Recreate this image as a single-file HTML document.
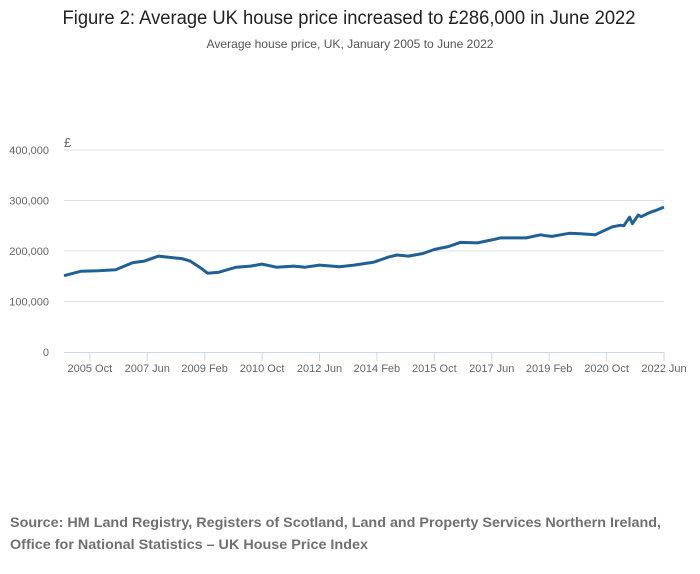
<!DOCTYPE html>
<html><head><meta charset="utf-8"><style>
html,body{margin:0;padding:0;background:#fff;}
svg{display:block;font-family:"Liberation Sans",sans-serif;}
</style></head><body>
<svg id="chart" width="700" height="574" viewBox="0 0 700 574">
<text x="349" y="24" text-anchor="middle" font-size="19" fill="#222" textLength="573" lengthAdjust="spacingAndGlyphs">Figure 2: Average UK house price increased to £286,000 in June 2022</text>
<text x="350" y="48" text-anchor="middle" font-size="12" fill="#555" textLength="287" lengthAdjust="spacingAndGlyphs">Average house price, UK, January 2005 to June 2022</text>
<g id="grid"></g>
<g id="yaxis"></g>
<g id="xaxis"></g>
<text x="64" y="147" font-size="13" fill="#666">£</text>
<path id="line" fill="none" stroke="#206095" stroke-width="3" stroke-linejoin="round"/>
<text x="10" y="527" font-size="14" font-weight="bold" fill="#707070" textLength="651" lengthAdjust="spacingAndGlyphs">Source: HM Land Registry, Registers of Scotland, Land and Property Services Northern Ireland,</text>
<text x="10" y="549" font-size="14" font-weight="bold" fill="#707070" textLength="358" lengthAdjust="spacingAndGlyphs">Office for National Statistics – UK House Price Index</text>
</svg>
<script>
// months since Jan 2005
const months = [0,6,12,18,24,28,33,36,41,44,48,50,54,60,65,69,74,80,84,89,96,101,108,109,113,116,120,125,129,134,138,144,149,152,156,161,166,168,170,173,176,180,185,188,191,194,195,197,198,200,201,204,206,209];
const prices = [151,160,161,163,177,180,190,188,185,180,165,156,158,168,170,174,168,170,168,172,169,172,178,180,188,192,190,195,203,209,217,216,222,226,226,226,232,230,229,232,235,234,232,240,248,251,250,267,254,271,268,276,280,287];
const yTicks = [0,100,200,300,400];
const yTickLabels = ["0","100,000","200,000","300,000","400,000"];
const xTickMonths = [9,29,49,69,89,109,129,149,169,189,209];
const xTickLabels = ["2005 Oct","2007 Jun","2009 Feb","2010 Oct","2012 Jun","2014 Feb","2015 Oct","2017 Jun","2019 Feb","2020 Oct","2022 Jun"];

const X0=64, X1=664, Y0=352, Y1=150;
const xS = m => X0 + (X1-X0)*m/209;
const yS = v => Y0 - (Y0-Y1)*v/400;
const NS="http://www.w3.org/2000/svg";
const grid=document.getElementById('grid'), ya=document.getElementById('yaxis'), xa=document.getElementById('xaxis');
yTicks.forEach((t,i)=>{
  if(t>0){
    const l=document.createElementNS(NS,'line');
    l.setAttribute('x1',X0);l.setAttribute('x2',X1);l.setAttribute('y1',yS(t));l.setAttribute('y2',yS(t));
    l.setAttribute('stroke','#e0e0e0');l.setAttribute('stroke-width','1');
    
    
    grid.appendChild(l);
  }
  const tx=document.createElementNS(NS,'text');
  tx.setAttribute('x',49);tx.setAttribute('y',yS(t)+4);tx.setAttribute('text-anchor','end');
  tx.setAttribute('font-size','11');tx.setAttribute('fill','#666');
  tx.textContent=yTickLabels[i];
  
  
  ya.appendChild(tx);
});
const base=document.createElementNS(NS,'line');
base.setAttribute('x1',X0);base.setAttribute('x2',X1);base.setAttribute('y1',Y0+0.5);base.setAttribute('y2',Y0+0.5);
base.setAttribute('stroke','#ccd6eb');


xa.appendChild(base);
xTickMonths.forEach((m,i)=>{
  const x=xS(m);
  const tk=document.createElementNS(NS,'line');
  tk.setAttribute('x1',x);tk.setAttribute('x2',x);tk.setAttribute('y1',Y0);tk.setAttribute('y2',Y0+9);
  tk.setAttribute('stroke','#ccd6eb');
  
  
  xa.appendChild(tk);
  const tx=document.createElementNS(NS,'text');
  tx.setAttribute('x',x);tx.setAttribute('y',372);tx.setAttribute('text-anchor','middle');
  tx.setAttribute('font-size','11');tx.setAttribute('fill','#666');
  tx.textContent=xTickLabels[i];
  
  
  xa.appendChild(tx);
});
document.getElementById('line').setAttribute('d', months.map((m,i)=>(i?'L':'M')+xS(m).toFixed(1)+','+yS(prices[i]).toFixed(1)).join(''));
</script>
</body></html>
